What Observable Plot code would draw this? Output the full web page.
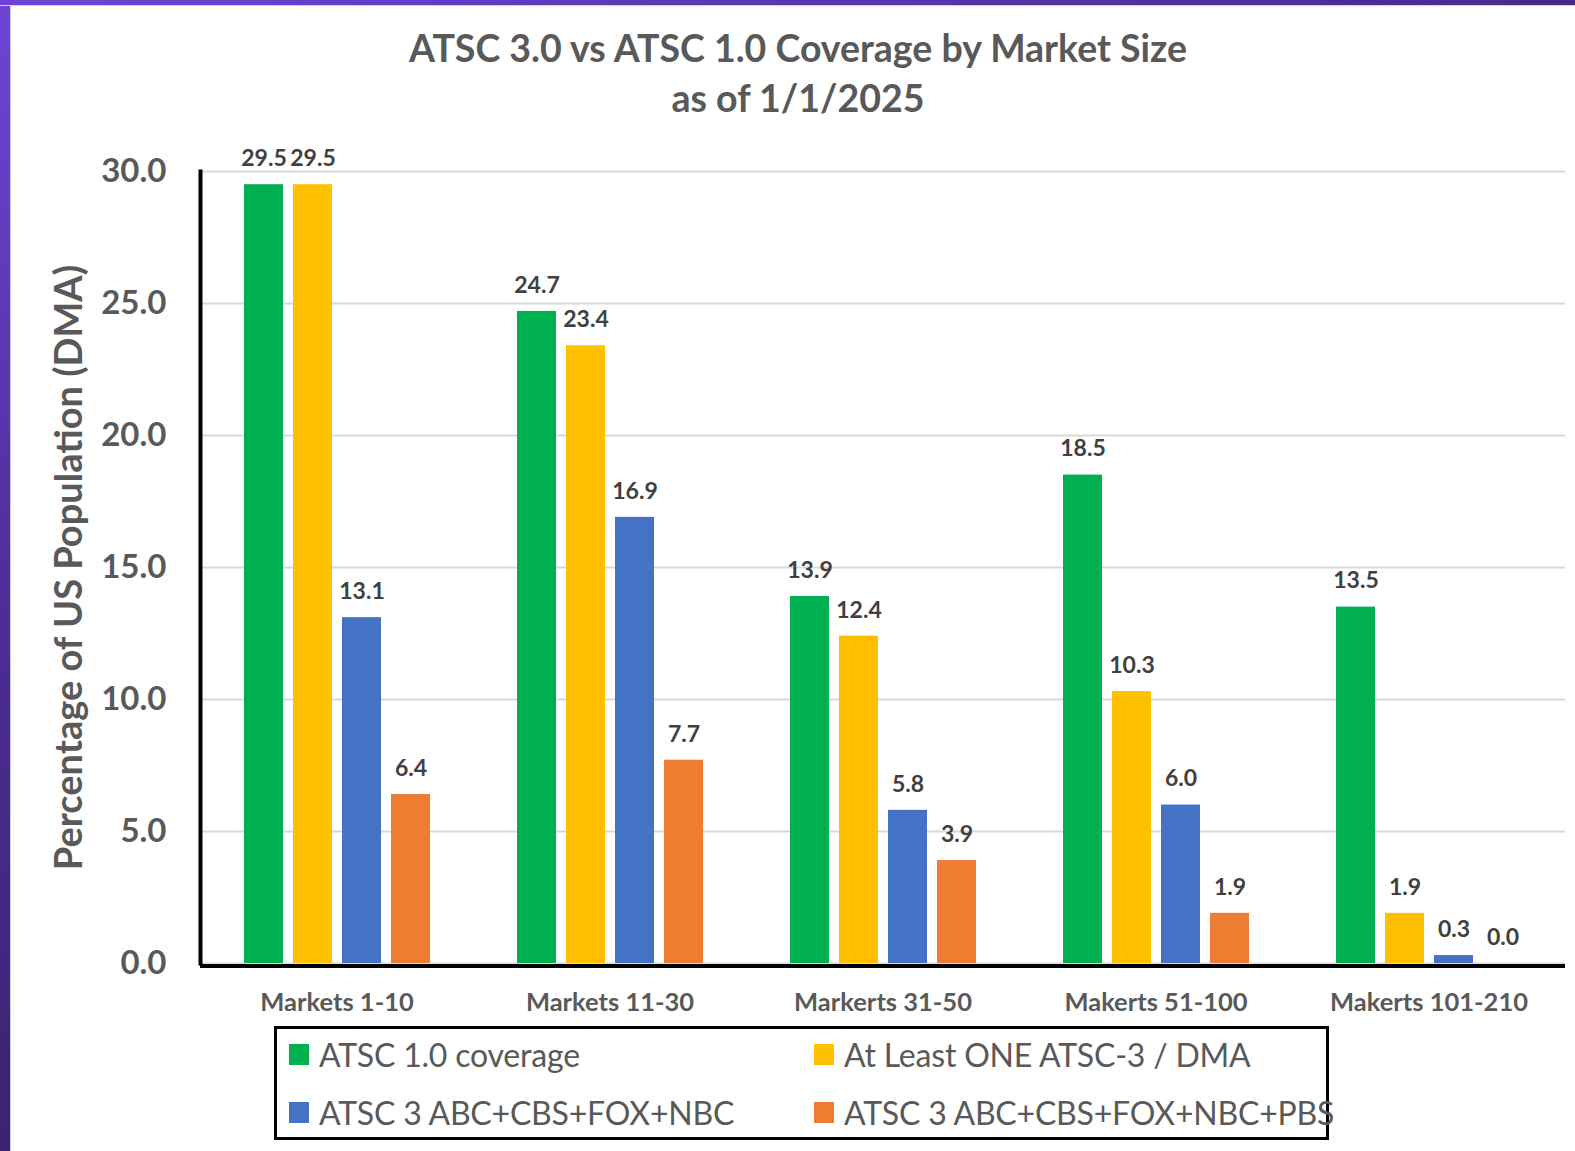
<!DOCTYPE html>
<html>
<head>
<meta charset="utf-8">
<script src="https://cdn.jsdelivr.net/npm/d3@7"></script>
<script src="https://cdn.jsdelivr.net/npm/@observablehq/plot@0.6"></script>
<style>
  html, body { margin: 0; padding: 0; background: #ffffff; }
  body { width: 1575px; height: 1151px; position: relative; overflow: hidden; font-family: Lato, "Noto Sans", sans-serif; }
  #frameLeft { position: absolute; left: 0; top: 0; width: 10px; height: 1151px; background: linear-gradient(180deg, #6e44d6 0%, #4b2d94 55%, #3b2372 100%); box-shadow: 1px 0 0 #cfcfd6; }
  #frameTop { position: absolute; left: 0; top: 0; width: 1575px; height: 5px; background: linear-gradient(90deg, #6e44d6 0%, #5a36b0 50%, #48298a 100%); box-shadow: 0 1px 0 #cfcfd6; }
  #title { position: absolute; left: 798px; top: 23px; transform: translateX(-50%); white-space: nowrap; text-align: center; font-weight: 700; font-size: 37.5px; line-height: 50px; color: #595959; }
  #chart { position: absolute; left: 0; top: 130px; }
  #legend { position: absolute; left: 274px; top: 1026px; width: 1049px; height: 108px; border: 3px solid #000; box-sizing: content-box; }
  .item { position: absolute; display: flex; align-items: center; font-size: 32px; letter-spacing: -0.2px; color: #595959; white-space: nowrap; }
  .sw { width: 20px; height: 21px; margin-right: 10px; }
</style>
</head>
<body>
<div id="frameLeft"></div>
<div id="frameTop"></div>
<div id="title"></div>
<div id="chart"></div>
<div id="legend"></div>
<script>
// ---- data ----
const titleLines = ["ATSC 3.0 vs ATSC 1.0 Coverage by Market Size", "as of 1/1/2025"];
const yLabel = "Percentage of US Population (DMA)";
const markets = ["Markets 1-10", "Markets 11-30", "Markerts 31-50", "Makerts 51-100", "Makerts 101-210"];
const seriesNames = ["ATSC 1.0 coverage", "At Least ONE ATSC-3 / DMA", "ATSC 3 ABC+CBS+FOX+NBC", "ATSC 3 ABC+CBS+FOX+NBC+PBS"];
const seriesColors = ["#00B050", "#FFC000", "#4472C4", "#ED7D31"];
const atsc1Coverage = [29.5, 24.7, 13.9, 18.5, 13.5];
const atLeastOne = [29.5, 23.4, 12.4, 10.3, 1.9];
const big4 = [13.1, 16.9, 5.8, 6.0, 0.3];
const big4Pbs = [6.4, 7.7, 3.9, 1.9, 0.0];
const yTicks = [0, 5, 10, 15, 20, 25, 30];

const seriesValues = [atsc1Coverage, atLeastOne, big4, big4Pbs];
const rows = [];
markets.forEach((m, i) => {
  seriesNames.forEach((s, j) => rows.push({market: m, series: s, value: seriesValues[j][i]}));
});

// ---- title ----
document.getElementById("title").innerHTML = titleLines.map(t => `<div>${t}</div>`).join("");

// ---- chart ----
const chart = Plot.plot({
  width: 1575,
  height: 890,
  marginTop: 41,
  marginBottom: 57,
  marginLeft: 198,
  marginRight: 8,
  style: {fontFamily: "Lato, 'Noto Sans', sans-serif", background: "transparent", overflow: "visible"},
  fx: {domain: markets, padding: 0, label: null},
  x: {domain: seriesNames, paddingInner: 0.212, paddingOuter: 0.872, axis: null},
  y: {domain: [0, 30], axis: null},
  color: {domain: seriesNames, range: seriesColors},
  marks: [
    Plot.gridY(yTicks, {stroke: "#d9d9d9", strokeOpacity: 1, strokeWidth: 2}),
    Plot.barY(rows, {fx: "market", x: "series", y: "value", fill: "series"}),
    Plot.text(rows, {fx: "market", x: "series", y: "value", text: d => d.value.toFixed(1), dy: -26, fontSize: 23, fontWeight: "bold", fill: "#404040"}),
    Plot.ruleY([0], {stroke: "#000", strokeWidth: 4, dy: 2.5}),
    Plot.frame({anchor: "left", facetAnchor: "left", stroke: "#000", strokeWidth: 4}),
    Plot.axisY(yTicks, {tickSize: 0, tickPadding: 34, tickFormat: d => d.toFixed(1), label: null, fontSize: 33, fontWeight: "bold", fill: "#595959"}),
    Plot.axisY([], {label: yLabel, labelAnchor: "center", labelArrow: "none", labelOffset: 145, fontSize: 38, fontWeight: "bold", fill: "#595959"}),
    Plot.axisFx({anchor: "bottom", tickSize: 0, tickPadding: 29, label: null, fontSize: 25.5, fontWeight: "bold", fill: "#595959"})
  ]
});
document.getElementById("chart").appendChild(chart);

// ---- legend ----
const legend = document.getElementById("legend");
const pos = [[12, 25], [537, 25], [12, 83], [537, 83]];
seriesNames.forEach((s, i) => {
  const it = document.createElement("div");
  it.className = "item";
  it.style.left = pos[i][0] + "px";
  it.style.top = (pos[i][1] - 22) + "px";
  it.style.height = "44px";
  it.innerHTML = `<div class="sw" style="background:${seriesColors[i]}"></div><span>${s}</span>`;
  legend.appendChild(it);
});
</script>
</body>
</html>
